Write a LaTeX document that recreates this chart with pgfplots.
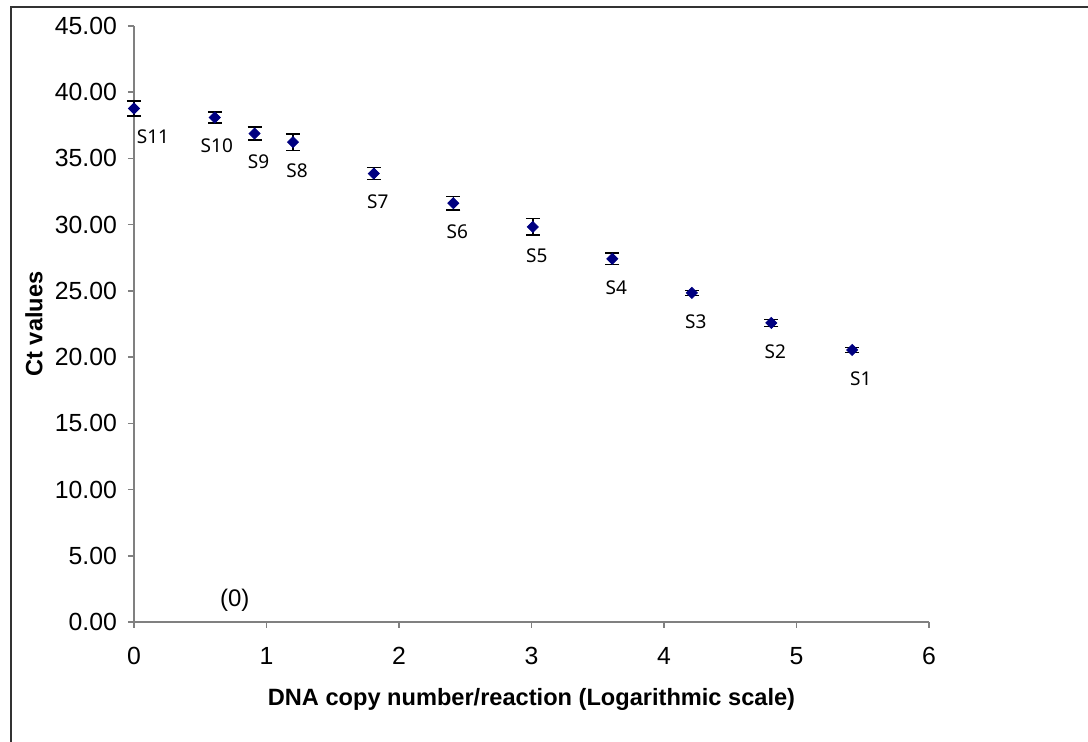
\documentclass[border=0pt]{standalone}
\usepackage{pgfplots}
\pgfplotsset{compat=1.18}
\usepackage{pgfplotstable}
\usepackage{fontspec}
\setmainfont{Liberation Sans}
\newfontfamily\labfont{Noto Sans}
\definecolor{navy}{RGB}{0,0,128}
\definecolor{framegray}{RGB}{51,51,51}

% x = log copy number, y = Ct, e = error
\pgfplotstableread{
x     y      e     label
0.00  38.77  0.57  S11
0.61  38.09  0.42  S10
0.91  36.88  0.48  S9
1.20  36.23  0.63  S8
1.81  33.86  0.46  S7
2.41  31.62  0.50  S6
3.01  29.83  0.62  S5
3.61  27.42  0.43  S4
4.21  24.85  0.20  S3
4.81  22.58  0.25  S2
5.42  20.54  0.20  S1
}\ctdata

\pgfplotsset{
  slabel/.style={only marks, mark=none,
    point meta=explicit symbolic,
    nodes near coords,
    nodes near coords style={font=\labfont\fontsize{9.5}{11}\selectfont,
      anchor=center, xshift=#1, yshift=-14.25pt}},
}

\begin{document}
\begin{tikzpicture}
\useasboundingbox (0,0) rectangle (544pt,371pt);
\draw[line width=1pt, framegray] (5.5pt,0) -- (5.5pt,367.6pt) -- (544pt,367.6pt);
\begin{axis}[
  scale only axis,
  width=397.5pt,
  height=298pt,
  at={(67pt,60pt)},
  anchor=origin,
  xmin=0, xmax=6,
  ymin=0, ymax=45,
  xtick={0,1,...,6},
  ytick={0,5,...,45},
  axis x line*=bottom,
  axis y line*=left,
  axis line style={draw=gray, line width=0.8pt, -},
  tick style={draw=gray, line width=0.8pt},
  major tick length=3pt,
  tick align=outside,
  /pgf/number format/assume math mode=true,
  tick label style={font=\fontsize{12.4}{14}\selectfont},
  yticklabel style={xshift=-2pt, /pgf/number format/.cd, fixed, fixed zerofill, precision=2},
  xticklabel style={yshift=-6pt, /pgf/number format/.cd, fixed, precision=0},
  clip=false,
]
\addplot[only marks, mark=square*, mark size=1.95pt,
  mark options={rotate=45, fill=navy, draw=navy},
  error bars/.cd, y dir=both, y explicit,
  error bar style={black, line width=0.7pt},
  error mark options={rotate=90, mark size=3.5pt, black, line width=0.7pt},
] table[x=x, y=y, y error=e] {\ctdata};
% point labels
\addplot[slabel=9.5pt, skip coords between index={1}{11}]
  table[x=x, y=y, meta=label] {\ctdata};
\addplot[slabel=1pt, skip coords between index={0}{1}, skip coords between index={2}{11}]
  table[x=x, y=y, meta=label] {\ctdata};
\addplot[slabel=2pt, skip coords between index={0}{2}, skip coords between index={10}{11}]
  table[x=x, y=y, meta=label] {\ctdata};
\addplot[slabel=4.3pt, skip coords between index={0}{10}]
  table[x=x, y=y, meta=label] {\ctdata};
\node[font=\fontsize{12}{14}\selectfont] at (axis cs:0.76,1.66) {(0)};
\node[font=\bfseries\fontsize{11.8}{13}\selectfont, rotate=90]
  at ([xshift=-50pt]axis description cs:0,0.5) {Ct values};
\node[font=\bfseries\fontsize{11.8}{13}\selectfont]
  at ([yshift=-38.5pt]axis description cs:0.5,0) {DNA copy number/reaction (Logarithmic scale)};
\end{axis}
\end{tikzpicture}
\end{document}
